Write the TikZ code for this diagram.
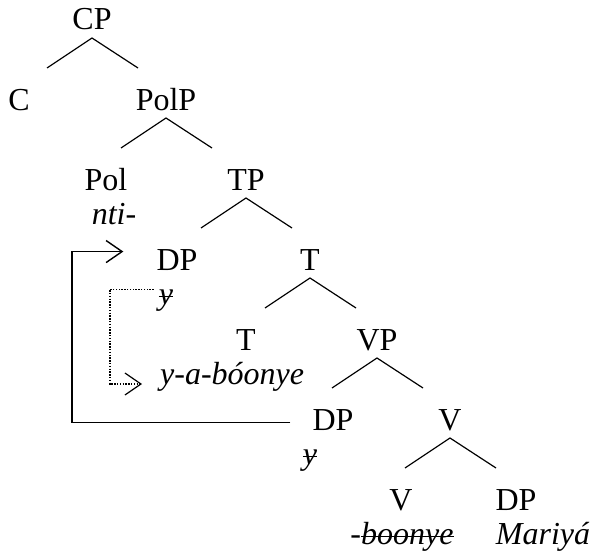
\documentclass[tikz,border=0pt]{standalone}
\usepackage{fontspec}
\setmainfont{Liberation Serif}
\usetikzlibrary{arrows.meta,positioning,calc}
\newcommand{\strk}[1]{\setbox0\hbox{#1}\rlap{\raise0.45ex\hbox{\rule{\wd0}{1.1pt}}}\box0}

\begin{document}
\begin{tikzpicture}[
  x=1pt, y=-1pt,
  lab/.style={inner sep=0pt, anchor=base, font=\fontsize{32}{36}\selectfont},
  branch/.style={line width=1.2pt},
  move/.style={line width=1.4pt, -{Straight Barb[length=16pt,width=22pt]}},
  copy/.style={line width=1.2pt, dash pattern=on 1.4pt off 1.4pt, -{Straight Barb[length=16pt,width=22pt]}}
]
\useasboundingbox (0,0) rectangle (590,554);

% tree labels
\node[lab] (cp) at (92,30) {CP};
\node[lab] (c) at (19,110) {C};
\node[lab] (polp) at (166,110) {PolP};
\node[lab] (pol) at (106,190) {Pol};
\node[lab] (nti) at (114,224) {\textit{nti}-};
\node[lab] (tp) at (246,190) {TP};
\node[lab] (dp1) at (177,270) {DP};
\node[lab] (y1) at (166,304) {\strk{\textit{y}}};
\node[lab] (t1) at (310,270) {T};
\node[lab] (t2) at (246,350) {T};
\node[lab] (vp) at (377,350) {VP};
\node[lab, anchor=base west] (yab) at (160,384) {\textit{y-a-bóonye}};
\node[lab] (dp2) at (333,430) {DP};
\node[lab] (y2) at (310,464) {\strk{\textit{y}}};
\node[lab] (v1) at (450,430) {V};
\node[lab] (v2) at (401,510) {V};
\node[lab] (boonye) at (402,544) {-\strk{\textit{boonye}}};
\node[lab] (dp3) at (516,510) {DP};
\node[lab] (mariya) at (543,544) {\textit{Mariyá}};

% branches
\foreach \n in {cp,polp,tp,t1,vp,v1}
  \draw[branch] ([xshift=-45pt,yshift=-38pt]\n.base) -- ([yshift=-8pt]\n.base) -- ([xshift=46pt,yshift=-38pt]\n.base);

% movement arrows
\coordinate (lift) at (72,300);
\coordinate (drop) at (110,330);
\draw[move, shorten <=22pt, shorten >=33pt] ([yshift=-3pt]dp2.west) -| (lift) |- ([yshift=8pt]dp1.west);
\draw[copy, shorten >=18pt] ([xshift=-5pt]y1.north west) -| (drop) |- (yab.base west);

\end{tikzpicture}
\end{document}
